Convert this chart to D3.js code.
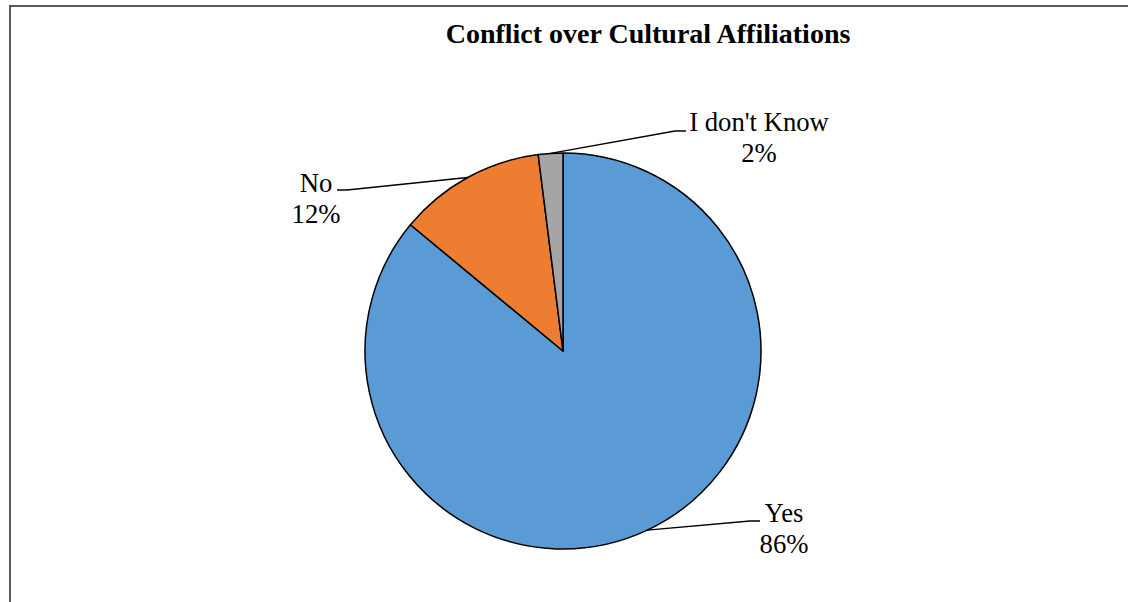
<!DOCTYPE html>
<html>
<head>
<meta charset="utf-8">
<script src="https://cdn.jsdelivr.net/npm/d3@7"></script>
<style>
  html, body { margin: 0; padding: 0; background: #fff; }
  svg { display: block; }
</style>
</head>
<body>
<svg id="chart" width="1128" height="602"></svg>
<script>
// Survey answers and their shares (percent)
const categories = ["Yes", "No", "I don't Know"];
const values = [86, 12, 2];
const colors = ["#5B9BD5", "#ED7D31", "#A5A5A5"];
const title = "Conflict over Cultural Affiliations";

const W = 1128, H = 602;
const FONT = "'Times New Roman', 'Liberation Serif', 'DejaVu Serif', serif";
const svg = d3.select("#chart");

// chart frame (its right and bottom edges run past the visible area)
svg.append("rect")
  .attr("x", 10).attr("y", 6)
  .attr("width", W + 20).attr("height", H + 20)
  .attr("fill", "none")
  .attr("stroke", "#595959")
  .attr("stroke-width", 2);

svg.append("text")
  .attr("x", 648).attr("y", 43)
  .attr("text-anchor", "middle")
  .attr("font-family", FONT)
  .attr("font-size", 28)
  .attr("font-weight", "bold")
  .attr("fill", "#000")
  .text(title);

const cx = 563, cy = 351, r = 198;
const data = categories.map((c, i) => ({ label: c, value: values[i], color: colors[i] }));

const pie = d3.pie().value(d => d.value).sort(null);
const arcs = pie(data);
const arc = d3.arc().innerRadius(0).outerRadius(r);

const g = svg.append("g").attr("transform", `translate(${cx},${cy})`);

g.selectAll("path.slice")
  .data(arcs)
  .join("path")
  .attr("class", "slice")
  .attr("d", arc)
  .attr("fill", d => d.data.color)
  .attr("stroke", "#000")
  .attr("stroke-width", 1.5)
  .attr("stroke-linejoin", "round");

// label boxes: centre x and first baseline, plus the elbow of the leader line
const labelPos = {
  "Yes":          { x: 784, y: 522, elbow: [750, 521], end: [760, 521] },
  "No":           { x: 316, y: 192, elbow: [347, 190], end: [337, 190] },
  "I don't Know": { x: 759, y: 131, elbow: [675, 131], end: [686, 131] }
};

const fmt = d => Math.round(d.value) + "%";

arcs.forEach(a => {
  const p = labelPos[a.data.label];
  const mid = (a.startAngle + a.endAngle) / 2;
  // point on the rim at the middle of the slice
  const sx = cx + r * Math.sin(mid), sy = cy - r * Math.cos(mid);
  svg.append("polyline")
    .attr("points", [[sx, sy], p.elbow, p.end].map(q => q.join(",")).join(" "))
    .attr("fill", "none")
    .attr("stroke", "#000")
    .attr("stroke-width", 1.3);

  const t = svg.append("text")
    .attr("text-anchor", "middle")
    .attr("font-family", FONT)
    .attr("font-size", 26.7)
    .attr("fill", "#000");
  t.append("tspan").attr("x", p.x).attr("y", p.y).text(a.data.label);
  t.append("tspan").attr("x", p.x).attr("y", p.y + 31).text(fmt(a.data));
});
</script>
</body>
</html>
